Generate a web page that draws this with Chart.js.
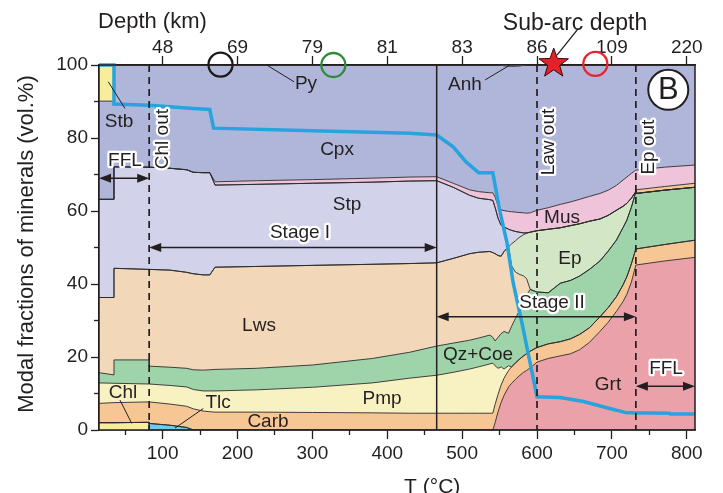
<!DOCTYPE html>
<html>
<head>
<meta charset="utf-8">
<script src="https://cdn.jsdelivr.net/npm/chart.js@4.4.1/dist/chart.umd.min.js"></script>
<style>
  html, body { margin: 0; padding: 0; background: #fff; }
  canvas { display: block; }
</style>
</head>
<body>
<canvas id="chart" width="723" height="493" style="width:723px;height:493px"></canvas>
<script>
// Temperature grid (°C) shared by every mineral boundary; a repeated value marks an abrupt step.
const temps = [15, 35, 35, 82, 82, 110, 132, 141, 154, 163,
  170, 225, 300, 380, 430, 466, 488, 510, 522, 537,
  541, 544, 548, 552, 556, 562, 566, 571, 576, 582,
  586, 591, 600, 615, 631, 645, 657, 670, 684, 695,
  706, 715, 720, 726, 732, 732, 770, 811];

// Upper edge of each mineral field, cumulative vol.% stacked from the bottom.
const chlTop = [2.0, 2.0, 2.0, 2.1, 0, 0, 0, 0, 0, 0,
  0, 0, 0, 0, 0, 0, 0, 0, 0, 0,
  0, 0, 0, 0, 0, 0, 0, 0, 0, 0,
  0, 0, 0, 0, 0, 0, 0, 0, 0, 0,
  0, 0, 0, 0, 0, 0, 0, 0];
const tlcTop = [2.0, 2.0, 2.0, 2.1, 1.8, 1.3, 0.7, 0, 0, 0,
  0, 0, 0, 0, 0, 0, 0, 0, 0, 0,
  0, 0, 0, 0, 0, 0, 0, 0, 0, 0,
  0, 0, 0, 0, 0, 0, 0, 0, 0, 0,
  0, 0, 0, 0, 0, 0, 0, 0];
const grtTop = [2.0, 2.0, 2.0, 2.1, 1.8, 1.3, 0.7, 0, 0, 0,
  0, 0, 0, 0, 0, 0, 0, 0, 0, 0,
  0, 2.0, 5.0, 7.5, 9.5, 11.8, 12.8, 13.8, 14.8, 15.8,
  16.3, 17.0, 18.6, 19.6, 20.3, 20.9, 22.0, 24.0, 27.0, 29.5,
  32.5, 35.2, 37.2, 40.5, 45.2, 45.2, 46.3, 47.3];
const carbTop = [7.3, 7.5, 7.5, 7.7, 7.7, 7.1, 6.5, 5.8, 5.2, 5.0,
  4.9, 4.9, 4.8, 4.7, 4.6, 4.6, 4.6, 4.6, 4.6, 4.6,
  4.6, 7.0, 9.8, 12.3, 14.2, 16.3, 17.3, 18.3, 19.3, 20.3,
  20.9, 21.6, 22.6, 23.6, 24.2, 25.0, 26.2, 28.0, 31.0, 33.5,
  36.5, 39.8, 42.0, 45.5, 49.6, 49.6, 50.8, 52.0];
const pmpTop = [12.9, 12.8, 12.8, 12.6, 12.6, 12.2, 11.8, 11.1, 10.7, 10.7,
  10.7, 11.0, 11.7, 12.9, 14.2, 15.0, 15.8, 16.7, 17.3, 18.1,
  18.3, 17.6, 16.9, 17.3, 16.7, 17.6, 17.3, 18.3, 19.3, 20.3,
  20.9, 21.6, 22.6, 23.6, 24.2, 25.0, 26.2, 28.0, 31.0, 33.5,
  36.5, 39.8, 42.0, 45.5, 49.6, 49.6, 50.8, 52.0];
const qzCoeTop = [15.7, 15.1, 19.2, 19.2, 17.5, 17.2, 16.9, 16.5, 16.4, 16.5,
  16.6, 16.9, 17.8, 19.6, 21.3, 23.0, 23.8, 24.6, 25.2, 26.0,
  25.4, 24.4, 25.4, 26.4, 27.0, 26.5, 28.4, 30.5, 32.5, 35.5,
  37.0, 38.5, 37.8, 37.6, 40.2, 41.0, 42.2, 44.0, 46.3, 49.0,
  52.0, 55.5, 57.5, 61.0, 65.3, 64.8, 65.7, 66.5];
const lwsTop = [36.3, 36.3, 44.3, 44.0, 44.0, 43.8, 43.2, 42.8, 42.5, 42.5,
  44.6, 44.8, 45.1, 45.4, 45.6, 45.8, 47.0, 48.3, 48.7, 48.9,
  48.6, 48.3, 47.8, 47.6, 48.9, 50.2, 45.0, 43.3, 42.7, 42.2,
  41.5, 38.5, 37.8, 37.6, 40.2, 41.0, 42.2, 44.0, 46.3, 49.0,
  52.0, 55.5, 57.5, 61.0, 65.3, 64.8, 65.7, 66.5];
const epTop = [36.3, 36.3, 44.3, 44.0, 44.0, 43.8, 43.2, 42.8, 42.5, 42.5,
  44.6, 44.8, 45.1, 45.4, 45.6, 45.8, 47.0, 48.3, 48.7, 48.9,
  48.6, 48.3, 47.8, 47.6, 48.9, 50.2, 51.0, 51.8, 52.7, 53.5,
  53.9, 54.2, 54.6, 55.0, 55.4, 56.0, 56.5, 57.2, 57.8, 58.8,
  60.2, 61.3, 62.1, 63.5, 65.3, 64.8, 65.7, 66.5];
const stpTop = [63.2, 63.2, 72.1, 72.0, 72.0, 71.7, 71.3, 70.6, 70.5, 70.5,
  67.1, 67.3, 67.6, 67.9, 68.2, 68.3, 66.5, 64.3, 63.5, 63.1,
  62.9, 61.0, 58.0, 56.1, 55.6, 55.0, 54.7, 54.4, 54.2, 54.0,
  54.0, 54.2, 54.6, 55.0, 55.4, 56.0, 56.5, 57.2, 57.8, 58.8,
  60.2, 61.3, 62.1, 63.5, 65.3, 64.8, 65.7, 66.5];
// thin unlabelled phase that appears above Qz+Coe past Ep-out
const minorTop = [63.2, 63.2, 72.1, 72.0, 72.0, 71.7, 71.3, 70.6, 70.5, 70.5,
  67.1, 67.3, 67.6, 67.9, 68.2, 68.3, 66.5, 64.3, 63.5, 63.1,
  62.9, 61.0, 58.0, 56.1, 55.6, 55.0, 54.7, 54.4, 54.2, 54.0,
  54.0, 54.2, 54.6, 55.0, 55.4, 56.0, 56.5, 57.2, 57.8, 58.8,
  60.2, 61.3, 62.1, 63.5, 65.3, 65.8, 66.7, 67.6];
const musTop = [63.2, 63.2, 72.1, 72.0, 72.0, 71.7, 71.3, 70.6, 70.5, 70.5,
  68.0, 68.3, 68.6, 69.0, 69.3, 69.4, 67.6, 65.8, 65.3, 65.0,
  65.0, 63.8, 61.5, 60.3, 60.1, 59.9, 59.8, 59.7, 59.6, 59.5,
  59.4, 59.5, 60.2, 60.9, 61.8, 62.5, 63.2, 64.0, 64.8, 65.7,
  67.0, 68.5, 69.3, 70.3, 71.2, 71.2, 72.0, 72.6];
const cpxTop = [90.1, 90.1, 100, 100, 100, 100, 100, 100, 100, 100,
  100, 100, 100, 100, 100, 100, 100, 100, 100, 100,
  100, 100, 100, 100, 100, 100, 100, 100, 100, 100,
  100, 100, 100, 100, 100, 100, 100, 100, 100, 100,
  100, 100, 100, 100, 100, 100, 100, 100];
const stbTop = [100, 100, 100, 100, 100, 100, 100, 100, 100, 100,
  100, 100, 100, 100, 100, 100, 100, 100, 100, 100,
  100, 100, 100, 100, 100, 100, 100, 100, 100, 100,
  100, 100, 100, 100, 100, 100, 100, 100, 100, 100,
  100, 100, 100, 100, 100, 100, 100, 100];

// Blue curve drawn over the mineral fields.
const curveTemps  = [15, 35, 35, 82, 141, 163, 168, 300, 430, 466, 488, 505, 522, 541, 550, 560, 568, 580, 600, 631, 662, 697, 720, 777, 778, 811];
const curveValues = [100, 100, 89.3, 89.0, 88.1, 87.8, 82.7, 82.0, 81.3, 80.8, 77.6, 73.5, 70.5, 70.5, 60.3, 51.2, 40.5, 29.2, 9.1, 8.9, 7.8, 5.9, 4.7, 4.6, 4.4, 4.4];

// Axis ticks: temperature below, depth (km) reached at the same temperatures above.
const tempTicks = [100, 200, 300, 400, 500, 600, 700, 800];
const minorTempTicks = [50, 150, 250, 350, 450, 550, 650, 750];
const depthLabels = ['48', '69', '79', '81', '83', '86', '109', '220'];
const fracTicks = [0, 20, 40, 60, 80, 100];
const minorFracTicks = [10, 30, 50, 70, 90];

const FONT = '"Liberation Sans", Arial, Helvetica, sans-serif';
const ink = '#231f20';

const layers = [
  { label: 'Chl',    top: chlTop,   color: '#f6ee9c' },
  { label: 'Tlc',    top: tlcTop,   color: '#72c8ee' },
  { label: 'Grt',    top: grtTop,   color: '#eba1a9' },
  { label: 'Carb',   top: carbTop,  color: '#f6c795' },
  { label: 'Pmp',    top: pmpTop,   color: '#f8f2c3' },
  { label: 'Qz+Coe', top: qzCoeTop, color: '#9fd4aa' },
  { label: 'Lws',    top: lwsTop,   color: '#f2d8b8' },
  { label: 'Ep',     top: epTop,    color: '#d3e6c6' },
  { label: 'Stp',    top: stpTop,   color: '#d2d3ea' },
  { label: 'minor',  top: minorTop, color: '#f6c795' },
  { label: 'Mus',    top: musTop,   color: '#efc3d9' },
  { label: 'Cpx',    top: cpxTop,   color: '#b0b6da' },
  { label: 'Stb',    top: stbTop,   color: '#f6ee9c' }
];

const datasets = layers.map((L, i) => ({
  label: L.label,
  data: temps.map((t, k) => ({ x: t, y: L.top[k] })),
  fill: i === 0 ? 'origin' : '-1',
  backgroundColor: L.color,
  borderColor: '#2b2b2b',
  borderWidth: 0.9,
  pointRadius: 0,
  tension: 0,
  xAxisID: 'x',
  yAxisID: 'y'
}));
datasets.push({
  label: 'curve',
  data: curveTemps.map((t, k) => ({ x: t, y: curveValues[k] })),
  fill: false,
  borderColor: '#27a3dd',
  borderWidth: 3.5,
  borderJoinStyle: 'miter',
  pointRadius: 0,
  tension: 0,
  order: -1,
  clip: 4,
  xAxisID: 'x',
  yAxisID: 'y'
});

// Labels, arrows and markers placed in data units (T °C, vol.%).
function drawOverlay(chart) {
  const { ctx, chartArea: a } = chart;
  const X = t => chart.scales.x.getPixelForValue(t);
  const Y = v => chart.scales.y.getPixelForValue(v);

  const text = (str, x, y, size, halo, rot) => {
    ctx.save();
    ctx.translate(x, y);
    if (rot) ctx.rotate(rot);
    ctx.font = size + 'px ' + FONT;
    ctx.textAlign = 'center';
    ctx.textBaseline = 'middle';
    if (halo) {
      ctx.lineWidth = 4.5;
      ctx.lineJoin = 'round';
      ctx.strokeStyle = '#fff';
      ctx.strokeText(str, 0, 0);
    }
    ctx.fillStyle = ink;
    ctx.fillText(str, 0, 0);
    ctx.restore();
  };
  const seg = (x1, y1, x2, y2, w) => {
    ctx.beginPath();
    ctx.moveTo(x1, y1);
    ctx.lineTo(x2, y2);
    ctx.lineWidth = w || 1;
    ctx.strokeStyle = ink;
    ctx.stroke();
  };
  const arrow = (t1, t2, v) => {
    const x1 = X(t1), x2 = X(t2), y = Y(v), hl = 12, hw = 4.5;
    seg(x1 + 4, y, x2 - 4, y, 1.5);
    ctx.fillStyle = ink;
    ctx.beginPath();
    ctx.moveTo(x1, y); ctx.lineTo(x1 + hl, y - hw); ctx.lineTo(x1 + hl, y + hw); ctx.closePath();
    ctx.fill();
    ctx.beginPath();
    ctx.moveTo(x2, y); ctx.lineTo(x2 - hl, y - hw); ctx.lineTo(x2 - hl, y + hw); ctx.closePath();
    ctx.fill();
  };

  ctx.save();

  // plot frame
  ctx.lineWidth = 1.5;
  ctx.strokeStyle = ink;
  ctx.strokeRect(a.left, a.top, a.right - a.left, a.bottom - a.top);

  // thin Anh sliver along the top
  ctx.fillStyle = '#44465a';
  ctx.beginPath();
  ctx.moveTo(X(547), Y(100));
  ctx.quadraticCurveTo(X(567), Y(100) + 4, X(588), Y(100));
  ctx.closePath();
  ctx.fill();

  // reaction boundaries
  ctx.setLineDash([7, 5]);
  [82, 600, 732].forEach(t => seg(X(t), Y(100), X(t), Y(0), 1.7));
  ctx.setLineDash([]);
  seg(X(466), Y(100), X(466), Y(0), 1.5);

  // leader lines
  seg(X(239), Y(100), X(275.5), Y(95.4));
  seg(X(27.4), Y(95.4), X(49.7), Y(88.1));
  seg(X(530.6), Y(95.9), X(564), Y(100));
  seg(X(43), Y(8.2), X(58.7), Y(1.8));
  seg(X(154.3), Y(5.9), X(116.5), Y(0.5));

  // mineral names
  [['Py', 291.5, 94.8], ['Stb', 41.7, 84.4], ['Anh', 503.8, 94.5], ['Cpx', 332.9, 76.7],
   ['Stp', 346.2, 61.6], ['Lws', 228.7, 28.5], ['Chl', 47, 10.1], ['Tlc', 174, 7.4],
   ['Carb', 240.7, 2.3], ['Pmp', 393, 8.5], ['Qz+Coe', 521.2, 20.5], ['Mus', 633.4, 58.1],
   ['Ep', 644, 46.8], ['Grt', 694.8, 12.3]].forEach(([s, t, v]) => text(s, X(t), Y(v), 19));

  // stages and fluid-flow intervals
  arrow(15, 82, 69);
  arrow(82, 466, 50);
  arrow(466, 732, 31);
  arrow(732, 811, 12);
  text('FFL', X(49.7), Y(73.7), 19, true);
  text('Stage I', X(283.5), Y(54), 19, true);
  text('Stage II', X(620), Y(34.8), 19, true);
  text('FFL', X(772.3), Y(16.7), 19, true);

  // vertical labels of the reaction boundaries
  text('Chl out', X(100.5), Y(79.7), 19, true, -Math.PI / 2);
  text('Law out', X(616), Y(78.9), 19, true, -Math.PI / 2);
  text('Ep out', X(749.6), Y(77.5), 19, true, -Math.PI / 2);

  // panel letter
  ctx.beginPath();
  ctx.arc(X(775.3), Y(93.2), 20, 0, Math.PI * 2);
  ctx.fillStyle = '#fff';
  ctx.fill();
  ctx.lineWidth = 2;
  ctx.strokeStyle = ink;
  ctx.stroke();
  text('B', X(775.3), Y(93.2) + 1, 31);

  // sample markers on the top edge
  [[177.3, 100.1, '#1b1b1b'], [328, 100, '#2e8b3a'], [677.9, 100.3, '#e8262d']].forEach(([t, v, c]) => {
    ctx.beginPath();
    ctx.arc(X(t), Y(v), 12, 0, Math.PI * 2);
    ctx.lineWidth = 2.3;
    ctx.strokeStyle = c;
    ctx.stroke();
  });

  // sub-arc depth star
  seg(X(626.7), Y(102.7), X(654.8), Y(109.9), 1.3);
  const sx = X(622.3), sy = Y(100.4);
  ctx.beginPath();
  for (let i = 0; i < 10; i++) {
    const r = i % 2 === 0 ? 15.5 : 6.3;
    const ang = -Math.PI / 2 + i * Math.PI / 5;
    const px = sx + r * Math.cos(ang), py = sy + r * Math.sin(ang);
    if (i === 0) ctx.moveTo(px, py); else ctx.lineTo(px, py);
  }
  ctx.closePath();
  ctx.fillStyle = '#e4202a';
  ctx.fill();
  ctx.lineWidth = 1;
  ctx.strokeStyle = '#3a0a0a';
  ctx.stroke();
  text('Sub-arc depth', X(650.8), Y(111.4), 23);

  // axis titles
  ctx.font = '22px ' + FONT;
  ctx.fillStyle = ink;
  ctx.textAlign = 'left';
  ctx.textBaseline = 'middle';
  ctx.fillText('Depth (km)', X(13.7), Y(111.8));
  text('T (°C)', X(460), 487, 21);
  text('Modal fractions of minerals (vol.%)', 27, 244, 22, false, -Math.PI / 2);

  ctx.restore();
}

const tickFont = { family: FONT, size: 19 };
const fixTicks = list => scale => { scale.ticks = list.map(v => ({ value: v })); };

new Chart(document.getElementById('chart'), {
  type: 'line',
  data: { datasets },
  options: {
    responsive: false,
    animation: false,
    events: [],
    devicePixelRatio: 1,
    layout: { padding: { left: 0, right: 28, top: 0, bottom: 0 } },
    plugins: {
      legend: { display: false },
      tooltip: { enabled: false },
      filler: { propagate: false, drawTime: 'beforeDatasetsDraw' }
    },
    scales: {
      x: {
        type: 'linear', position: 'bottom', min: 15, max: 811, weight: 1, z: 1,
        afterBuildTicks: fixTicks(tempTicks),
        afterFit: s => { s.height = 63; },
        grid: { drawOnChartArea: false, tickLength: 9, tickWidth: 1.3, tickColor: ink },
        border: { display: true, color: ink, width: 1.5 },
        ticks: { color: ink, font: tickFont, padding: 3, maxRotation: 0, autoSkip: false, callback: v => String(v) }
      },
      xMinor: {
        type: 'linear', position: 'bottom', min: 15, max: 811, weight: 0, z: 1,
        afterBuildTicks: fixTicks(minorTempTicks),
        afterFit: s => { s.height = 0; },
        grid: { drawOnChartArea: false, tickLength: 5, tickWidth: 1.3, tickColor: ink },
        border: { display: false },
        ticks: { display: false }
      },
      xTop: {
        type: 'linear', position: 'top', min: 15, max: 811, z: 1,
        afterBuildTicks: fixTicks(tempTicks),
        afterFit: s => { s.height = 65; },
        grid: { drawOnChartArea: false, tickLength: 9, tickWidth: 1.3, tickColor: ink },
        border: { display: true, color: ink, width: 1.5 },
        ticks: { color: ink, font: tickFont, padding: -3, maxRotation: 0, autoSkip: false,
                 callback: v => depthLabels[tempTicks.indexOf(v)] }
      },
      y: {
        type: 'linear', position: 'left', min: 0, max: 100, weight: 1, z: 1,
        afterBuildTicks: fixTicks(fracTicks),
        afterFit: s => { s.width = 99; },
        grid: { drawOnChartArea: false, tickLength: 8, tickWidth: 1.3, tickColor: ink },
        border: { display: true, color: ink, width: 1.5 },
        ticks: { color: ink, font: tickFont, padding: 3, callback: v => String(v) }
      },
      yMinor: {
        type: 'linear', position: 'left', min: 0, max: 100, weight: 0, z: 1,
        afterBuildTicks: fixTicks(minorFracTicks),
        afterFit: s => { s.width = 0; },
        grid: { drawOnChartArea: false, tickLength: 5, tickWidth: 1.3, tickColor: ink },
        border: { display: false },
        ticks: { display: false }
      }
    }
  },
  plugins: [{ id: 'overlay', afterDraw: drawOverlay }]
});
</script>
</body>
</html>
